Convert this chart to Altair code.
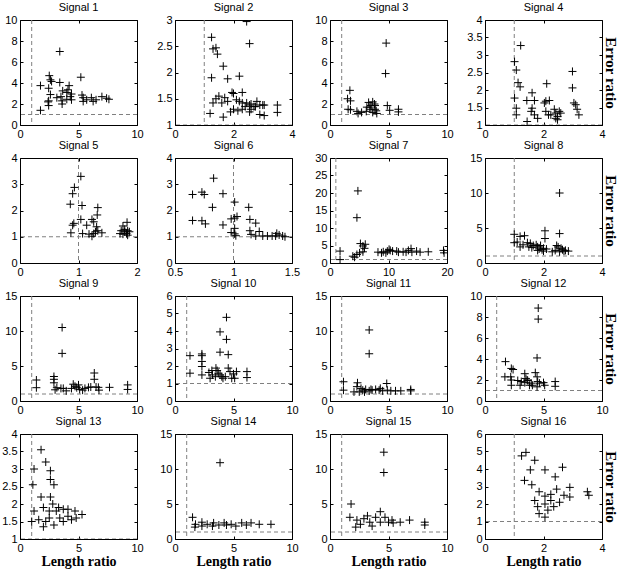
import altair as alt
import pandas as pd

titles = [f"Signal {i}" for i in range(1, 17)]

x_domains = [[0, 10], [0, 4], [0, 10], [0, 4],
             [0, 2], [0.5, 1.5], [0, 20], [0, 4],
             [0, 10], [0, 10], [0, 10], [0, 10],
             [0, 10], [0, 10], [0, 10], [0, 4]]
y_domains = [[0, 10], [1, 3], [0, 10], [1, 4],
             [0, 4], [0, 4], [0, 30], [0, 15],
             [0, 15], [0, 6], [0, 15], [0, 10],
             [1, 4], [0, 15], [0, 15], [0, 6]]
x_ticks = [[0, 5, 10], [0, 2, 4], [0, 5, 10], [0, 2, 4],
           [0, 1, 2], [0.5, 1, 1.5], [0, 10, 20], [0, 2, 4],
           [0, 5, 10], [0, 5, 10], [0, 5, 10], [0, 5, 10],
           [0, 5, 10], [0, 5, 10], [0, 5, 10], [0, 2, 4]]
y_ticks = [[0, 2, 4, 6, 8, 10], [1, 1.5, 2, 2.5, 3], [0, 2, 4, 6, 8, 10], [1, 1.5, 2, 2.5, 3, 3.5, 4],
           [0, 1, 2, 3, 4], [0, 1, 2, 3, 4], [0, 5, 10, 15, 20, 25, 30], [0, 5, 10, 15],
           [0, 5, 10, 15], [0, 1, 2, 3, 4, 5, 6], [0, 5, 10, 15], [0, 2, 4, 6, 8, 10],
           [1, 1.5, 2, 2.5, 3, 3.5, 4], [0, 5, 10, 15], [0, 5, 10, 15], [0, 1, 2, 3, 4, 5, 6]]

threshold = [1.0]

sig1_x = [3.4, 5.2, 2.5, 2.6, 2.7, 3.4, 1.75, 2.45, 4.2, 4.1, 3.65, 2.6, 4.0, 4.4, 4.3, 3.5, 5.3, 5.4,
          6.1, 7.0, 7.4, 7.6, 2.45, 2.4, 3.6, 4.4, 5.4, 6.25, 2.45, 3.6, 1.75, 4.0, 3.15, 5.7, 6.5]
sig1_y = [7.0, 4.55, 4.7, 4.3, 4.15, 4.05, 3.75, 3.5, 3.75, 3.35, 3.25, 2.9, 3.1, 2.95, 2.7, 2.7, 2.85, 2.6,
          2.6, 2.7, 2.55, 2.45, 2.3, 2.2, 2.3, 2.4, 2.25, 2.25, 1.85, 2.0, 1.4, 2.45, 2.6, 2.4, 2.4]

sig2_x = [2.45, 1.25, 1.3, 1.4, 1.45, 1.65, 2.55, 1.25, 1.8, 2.2, 1.95, 2.0, 2.3, 1.5, 1.7, 1.4, 1.3, 1.6,
          1.8, 2.1, 2.2, 2.3, 2.45, 2.6, 2.4, 2.55, 2.7, 2.8, 2.9, 3.0, 3.05, 3.5, 2.0, 2.15, 1.9, 2.55,
          2.6, 2.9, 3.05, 3.5, 1.2, 1.65, 2.3, 2.75]
sig2_y = [2.97, 2.67, 2.45, 2.47, 2.35, 2.12, 2.55, 1.9, 1.88, 1.93, 1.62, 1.6, 1.62, 1.55, 1.52, 1.5, 1.42, 1.42,
          1.45, 1.48, 1.45, 1.42, 1.42, 1.4, 1.35, 1.38, 1.35, 1.45, 1.38, 1.38, 1.38, 1.38, 1.3, 1.27, 1.25, 1.25,
          1.3, 1.2, 1.18, 1.24, 1.22, 1.15, 1.3, 1.35]

sig3_x = [4.8, 4.75, 1.7, 1.5, 1.75, 1.55, 1.75, 2.3, 2.7, 3.1, 3.3, 3.65, 3.8, 3.4, 3.5, 3.85, 3.95, 3.65,
          3.15, 4.9, 5.1, 5.85, 5.85, 4.0, 2.4, 3.5, 3.85]
sig3_y = [7.8, 4.9, 3.3, 2.5, 2.3, 1.5, 1.45, 1.3, 1.2, 1.3, 2.15, 2.2, 2.0, 1.7, 1.5, 1.5, 1.35, 1.2,
          1.7, 1.85, 1.4, 1.5, 1.25, 1.1, 1.1, 1.85, 1.85]

sig4_x = [1.22, 1.01, 1.07, 1.13, 1.2, 1.01, 1.07, 1.07, 1.44, 1.61, 1.43, 1.69, 1.61, 1.58, 1.69, 1.8, 2.03, 2.08,
          2.2, 2.11, 2.08, 2.17, 2.37, 2.42, 2.48, 2.54, 2.59, 2.48, 2.25, 2.99, 2.99, 3.04, 3.15, 3.21, 3.1, 2.42]
sig4_y = [3.27, 2.81, 2.57, 2.21, 2.09, 1.77, 1.48, 1.29, 1.1, 1.92, 1.7, 1.7, 1.48, 1.39, 1.29, 1.19, 1.63, 1.68,
          1.7, 2.18, 1.39, 1.29, 1.45, 1.34, 1.24, 1.39, 1.34, 1.15, 1.29, 2.53, 2.06, 1.63, 1.45, 1.29, 1.58, 1.19]

sig5_x = [1.04, 0.93, 0.9, 0.86, 1.06, 1.33, 1.32, 1.23, 1.26, 1.04, 0.92, 0.9, 1.14, 1.31, 1.33, 1.29, 0.87,
          1.07, 1.18, 1.23, 1.4, 1.26, 1.83, 1.76, 1.79, 1.84, 1.73, 1.82, 1.76, 1.87, 1.79, 1.71, 1.84]
sig5_y = [3.3, 2.88, 2.64, 2.24, 2.19, 2.11, 1.83, 1.66, 1.57, 1.66, 1.51, 1.44, 1.44, 1.38, 1.23, 1.19, 1.15,
          1.12, 1.1, 1.02, 1.15, 1.12, 1.55, 1.41, 1.28, 1.23, 1.23, 1.12, 1.1, 1.19, 1.19, 1.12, 1.06]

sig6_x = [0.83, 0.65, 0.73, 0.75, 0.91, 0.82, 1.01, 1.13, 0.98, 1.03, 1.01, 1.14, 1.19, 0.65, 0.73, 0.76, 0.91,
          1.01, 1.14, 1.22, 0.98, 1.01, 1.02, 1.15, 1.19, 1.25, 1.29, 1.33, 1.37, 1.39, 1.42, 1.44, 1.36]
sig6_y = [3.23, 2.61, 2.7, 2.61, 2.64, 2.12, 2.32, 2.12, 1.68, 1.77, 1.71, 1.66, 1.52, 1.62, 1.61, 1.49, 1.45,
          1.32, 1.23, 1.2, 1.16, 1.11, 1.04, 1.09, 1.03, 1.03, 1.03, 1.03, 1.13, 1.07, 1.03, 1.0, 1.03]

sig7_x = [4.77, 4.6, 1.72, 1.72, 3.9, 4.2, 4.6, 5.06, 5.2, 5.63, 6.03, 5.9, 5.63, 8.2, 9.1, 9.55, 9.8, 10.1,
          10.3, 10.7, 11.7, 12.5, 13.4, 13.85, 14.0, 14.8, 15.4, 16.8, 19.4, 19.5, 8.8, 11.4, 13.0]
sig7_y = [20.6, 12.95, 3.4, 0.97, 1.95, 1.65, 2.43, 2.9, 5.55, 4.87, 5.35, 4.2, 3.2, 3.1, 3.2, 2.9, 3.4, 3.9,
          3.6, 3.4, 3.1, 3.2, 3.6, 4.1, 3.1, 3.4, 3.1, 3.2, 3.6, 2.9, 2.9, 3.4, 3.1]

sig8_x = [1.0, 1.2, 1.35, 1.0, 1.1, 1.2, 1.3, 1.45, 1.55, 1.6, 1.75, 1.8, 1.85, 1.9, 1.95, 2.0, 2.0, 2.05,
          2.05, 2.1, 1.8, 2.4, 2.45, 2.5, 2.55, 2.55, 2.6, 2.65, 2.7, 2.75, 2.85, 2.3, 2.55, 1.65, 1.5]
sig8_y = [4.1, 3.8, 3.9, 2.9, 3.0, 2.3, 2.6, 2.9, 2.8, 2.2, 2.6, 2.3, 2.0, 2.5, 1.9, 2.1, 1.7, 4.6,
          3.5, 2.0, 1.8, 1.8, 2.5, 2.3, 10.0, 4.2, 2.1, 1.9, 1.7, 1.8, 1.7, 1.6, 1.6, 2.5, 2.3]

sig9_x = [3.6, 3.6, 1.4, 1.4, 2.9, 2.9, 2.9, 3.0, 3.15, 3.5, 3.95, 4.55, 4.7, 4.85, 5.0, 5.1, 5.35, 5.85,
          6.05, 6.35, 6.35, 6.5, 6.7, 6.75, 7.65, 9.2, 9.2, 4.4, 5.55, 3.7]
sig9_y = [10.5, 6.8, 3.0, 1.9, 3.5, 3.1, 2.6, 1.6, 1.9, 1.8, 1.45, 2.4, 2.1, 1.9, 2.3, 1.65, 1.55, 1.95,
          2.0, 4.0, 3.1, 2.0, 1.95, 1.55, 1.95, 2.3, 1.65, 1.8, 1.8, 1.8]

sig10_x = [4.4, 3.85, 4.4, 3.85, 4.55, 1.28, 2.3, 2.3, 2.3, 2.3, 1.28, 2.3, 2.9, 3.15, 3.5, 3.6, 3.7, 3.85,
           4.0, 4.1, 4.3, 4.55, 4.7, 5.0, 5.1, 5.25, 6.15, 6.15, 3.0, 3.45, 4.85, 3.2]
sig10_y = [4.78, 3.95, 3.52, 2.79, 2.65, 2.59, 2.69, 2.59, 2.26, 1.97, 1.59, 1.49, 1.63, 1.74, 1.88, 1.74, 1.59,
           1.49, 1.39, 1.3, 1.39, 1.88, 1.68, 1.55, 1.3, 1.68, 1.68, 1.34, 1.3, 1.39, 1.3, 1.49]

sig11_x = [3.35, 3.35, 1.15, 1.15, 2.35, 2.3, 2.65, 2.8, 3.05, 3.35, 3.6, 3.9, 4.2, 4.5, 4.85, 4.9, 5.2, 5.6,
           6.05, 6.9, 6.9, 2.05, 2.5, 3.5, 4.3, 2.95]
sig11_y = [10.15, 6.75, 2.75, 1.55, 2.6, 2.05, 1.8, 1.55, 1.65, 1.45, 1.55, 1.65, 1.55, 1.45, 2.5, 1.55, 1.45, 1.45,
           1.45, 1.45, 1.65, 1.3, 1.3, 1.65, 1.8, 1.3]

sig12_x = [4.55, 4.55, 4.45, 1.75, 2.25, 2.4, 1.7, 2.2, 2.25, 2.25, 3.4, 3.5, 3.6, 3.4, 3.1, 3.0, 3.95, 4.05,
           4.3, 4.45, 4.5, 4.45, 5.0, 5.1, 6.0, 6.0, 3.8, 3.65, 2.8, 4.65]
sig12_y = [8.85, 7.8, 4.1, 3.75, 3.1, 3.0, 2.3, 2.3, 2.0, 1.5, 2.6, 2.15, 2.0, 1.75, 1.85, 1.5, 1.7, 1.5,
           2.7, 2.3, 1.85, 1.35, 1.75, 1.5, 1.85, 1.4, 1.5, 1.95, 1.95, 1.7]

sig13_x = [1.8, 2.2, 1.2, 2.6, 1.1, 2.6, 2.9, 1.8, 2.6, 1.2, 2.0, 2.8, 3.1, 3.7, 4.7, 5.3, 4.1, 3.4, 2.5,
           1.6, 1.0, 2.2, 2.9, 3.7, 4.4, 4.8, 2.5, 3.3, 4.1, 2.0]
sig13_y = [3.55, 3.2, 3.0, 2.95, 2.55, 2.7, 2.55, 2.2, 2.2, 1.8, 1.9, 2.0, 1.8, 1.85, 1.8, 1.7, 1.65, 1.6, 1.6,
           1.55, 1.5, 1.5, 1.4, 1.5, 1.55, 1.6, 1.8, 1.9, 1.85, 1.35]

sig14_x = [3.85, 1.5, 1.75, 2.3, 2.75, 3.3, 4.2, 4.8, 5.7, 6.5, 7.2, 8.2, 2.3, 3.2, 4.4, 5.2, 6.1, 3.75, 1.7]
sig14_y = [10.9, 3.1, 2.1, 2.4, 2.1, 2.3, 2.3, 2.1, 2.3, 2.3, 2.1, 2.1, 1.85, 1.85, 2.0, 1.85, 2.0, 2.0, 1.7]

sig15_x = [4.6, 4.6, 1.8, 1.7, 2.3, 2.9, 3.4, 3.9, 4.3, 4.7, 4.3, 5.0, 5.4, 6.0, 6.8, 2.6, 2.2, 3.6, 5.3,
           8.1, 8.1, 3.2]
sig15_y = [12.4, 9.5, 5.0, 3.1, 2.7, 2.9, 2.4, 3.1, 3.9, 3.1, 2.4, 2.4, 2.3, 2.4, 2.7, 2.1, 1.7, 1.85, 2.7,
           2.4, 2.0, 3.3]

sig16_x = [1.25, 1.4, 1.7, 1.55, 1.35, 2.05, 2.4, 2.65, 1.85, 2.05, 2.25, 2.45, 2.7, 2.9, 2.55, 2.05, 1.8,
           2.15, 1.85, 2.35, 2.25, 3.5, 3.55, 1.6, 2.9, 1.7, 2.05]
sig16_y = [4.75, 4.95, 4.5, 3.95, 3.35, 3.95, 3.55, 4.1, 2.7, 2.45, 2.55, 2.85, 2.5, 2.4, 2.1, 2.0, 1.85,
           1.65, 1.45, 1.85, 2.2, 2.7, 2.5, 3.1, 2.95, 2.2, 1.25]

xs_all = [sig1_x, sig2_x, sig3_x, sig4_x, sig5_x, sig6_x, sig7_x, sig8_x,
          sig9_x, sig10_x, sig11_x, sig12_x, sig13_x, sig14_x, sig15_x, sig16_x]
ys_all = [sig1_y, sig2_y, sig3_y, sig4_y, sig5_y, sig6_y, sig7_y, sig8_y,
          sig9_y, sig10_y, sig11_y, sig12_y, sig13_y, sig14_y, sig15_y, sig16_y]

CROSS = "M -1 0 L 1 0 M 0 -1 L 0 1"
W, H = 117, 105
SERIF = "Liberation Serif"
SANS = "Liberation Sans"
DASH = "#808080"

ref_df = pd.DataFrame({"x": threshold, "y": threshold})


def tick_axis(orient, offset, values):
    return alt.Axis(orient=orient, offset=offset, values=values, labels=False, domain=False,
                    grid=False, ticks=True, tickSize=3, tickColor="black", tickWidth=1, title=None)


def panel(i):
    col = i % 4
    row = i // 4
    df = pd.DataFrame({"x": xs_all[i], "y": ys_all[i]})
    xscale = alt.Scale(domain=x_domains[i], nice=False, zero=False)
    yscale = alt.Scale(domain=y_domains[i], nice=False, zero=False)
    xkw = dict(values=x_ticks[i], format="~r", grid=False, domain=False, ticks=False,
               labelFlush=False, labelOverlap=False, labelPadding=3)
    if row == 3:
        xkw.update(title="Length ratio", titleFont=SERIF, titleFontWeight="bold",
                   titleFontSize=14, titlePadding=1, titleColor="black")
    else:
        xkw.update(title=None)
    xaxis = alt.Axis(**xkw)
    yaxis = alt.Axis(values=y_ticks[i], format="~r", grid=False, domain=False, ticks=False,
                     labelFlush=False, labelOverlap=False, labelPadding=3, title=None)

    pts = alt.Chart(df).mark_point(shape=CROSS, filled=False, color="black", size=64,
                                   strokeWidth=1, opacity=1, clip=True).encode(
        x=alt.X("x:Q", scale=xscale, axis=xaxis),
        y=alt.Y("y:Q", scale=yscale, axis=yaxis),
    )
    vline = alt.Chart(ref_df).mark_rule(color=DASH, strokeDash=[4, 3], strokeWidth=1, clip=True).encode(
        x=alt.X("x:Q", scale=xscale, axis=None)
    )
    if col == 3:
        raxis = alt.Axis(orient="right", title="Error ratio", labels=False, ticks=False, domain=False,
                         grid=False, titleFont=SERIF, titleFontWeight="bold", titleFontSize=15,
                         titleAngle=90, titlePadding=0, titleColor="black")
    else:
        raxis = None
    hline = alt.Chart(ref_df).mark_rule(color=DASH, strokeDash=[4, 3], strokeWidth=1, clip=True).encode(
        y=alt.Y("y:Q", scale=yscale, axis=raxis)
    )
    # inward ticks on all four sides (box style)
    ticks_a = alt.Chart(ref_df).mark_point(opacity=0, clip=True).encode(
        x=alt.X("x:Q", scale=xscale, axis=tick_axis("top", -H, x_ticks[i])),
        y=alt.Y("y:Q", scale=yscale, axis=tick_axis("right", -W, y_ticks[i])),
    )
    ticks_b = alt.Chart(ref_df).mark_point(opacity=0, clip=True).encode(
        x=alt.X("x:Q", scale=xscale, axis=tick_axis("bottom", -H, x_ticks[i])),
        y=alt.Y("y:Q", scale=yscale, axis=tick_axis("left", -W, y_ticks[i])),
    )
    layer = alt.layer(vline, hline, ticks_a, ticks_b, pts).resolve_scale(x="independent", y="independent")
    return layer.properties(
        width=W, height=H,
        title=alt.TitleParams(titles[i], font=SANS, fontSize=11, fontWeight="normal",
                              color="black", offset=1, anchor="middle"),
    )


chart = alt.concat(*[panel(i) for i in range(16)], columns=4,
                   spacing={"row": 33, "column": 38}, bounds="flush").properties(
    padding={"left": 1, "top": 1, "right": 2, "bottom": 0},
    background="white",
).configure_view(stroke="black", strokeWidth=1).configure_axis(
    labelFont=SANS, labelFontSize=11, labelColor="black"
)

chart.save("out.html", embed_options={"renderer": "svg", "actions": False})
